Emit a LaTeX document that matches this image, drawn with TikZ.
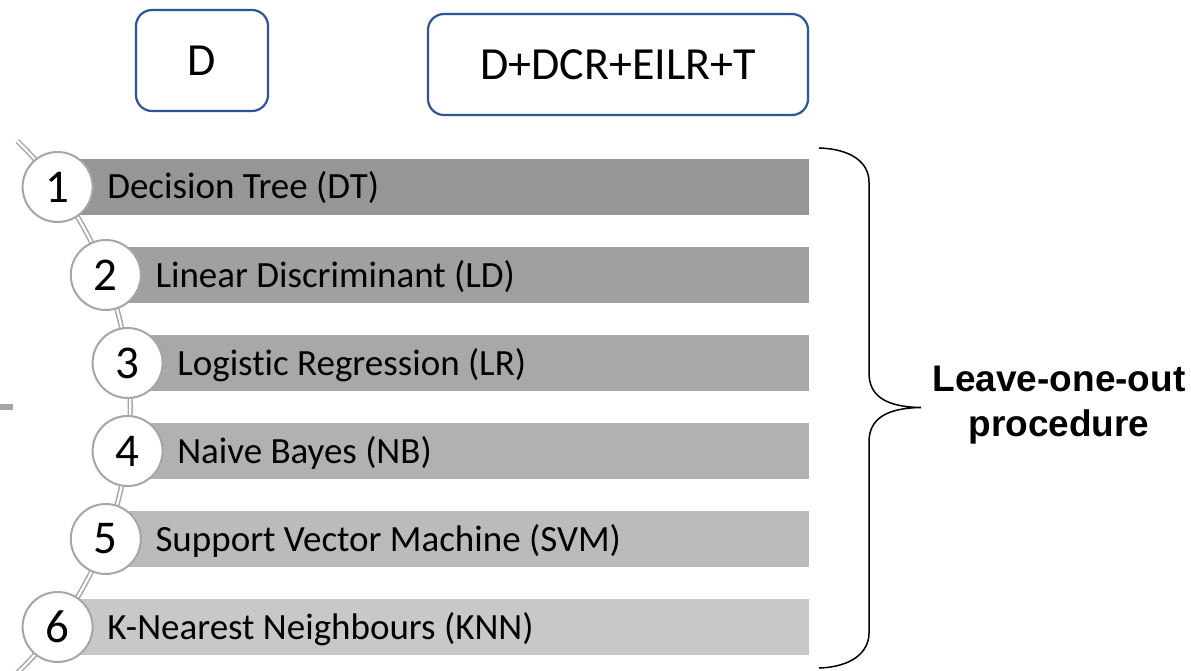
\documentclass[tikz,border=0pt]{standalone}
\usepackage{fontspec}
\setmainfont{Carlito}[Ligatures={NoCommon}]
\newfontfamily\arialf{Liberation Sans}
\definecolor{boxblue}{RGB}{47,85,151}
\definecolor{cborder}{RGB}{166,166,166}
\definecolor{bar1}{RGB}{150,150,150}
\definecolor{bar2}{RGB}{160,160,160}
\definecolor{bar3}{RGB}{168,168,168}
\definecolor{bar4}{RGB}{177,177,177}
\definecolor{bar5}{RGB}{187,187,187}
\definecolor{bar6}{RGB}{200,200,200}
\tikzset{
  topbox/.style={draw=boxblue, line width=2.2pt, rounded corners=16pt, fill=white,
    minimum height=101pt, inner sep=0pt, font=\fontsize{46}{50}\selectfont},
  numcirc/.style={circle, draw=cborder, line width=2pt, fill=white, minimum size=70pt,
    inner sep=0pt, font=\fontsize{47}{50}\selectfont},
  lab/.style={inner sep=0pt, font=\fontsize{37}{40}\selectfont},
  spine/.style={draw=cborder, line width=1.5pt, double=white, double distance=2.2pt},
  bracepath/.style={draw=black, line width=1.5pt},
  loolabel/.style={align=center, inner sep=0pt, font=\arialf\bfseries\fontsize{37}{45}\selectfont}
}
\begin{document}
\begin{tikzpicture}[x=1pt,y=-1pt]
\useasboundingbox (0,0) rectangle (1191,671);
\clip (0,0) rectangle (1191,671);
\fill[white] (0,0) rectangle (1191,671);
% top boxes
\node[topbox, minimum width=132pt] (d) at (202,60.5) {D};
\node[topbox, minimum width=380pt] (dall) at (618,64.5) {D+DCR+EILR+T};
% small gray tick
\fill[cborder] (0,404) rectangle (13,410);
% bars
\foreach \yc/\cx/\col in {187/57.6/bar1,275/105.8/bar2,363/127.6/bar3,451/127.6/bar4,539/105.8/bar5,627/57.6/bar6}{
  \fill[\col] (\cx,\yc-28) rectangle (809,\yc+28);
}
% spine arc
\draw[spine] plot[domain=-46:47, samples=90] ({-239.4+369.6*cos(\x)},{407+369.6*sin(\x)});
% circles and labels
\foreach \yc/\cx/\n/\lab in {187/57.6/1/{Decision Tree (DT)},275/105.8/2/{Linear Discriminant (LD)},363/127.6/3/{Logistic Regression (LR)},451/127.6/4/{Naive Bayes (NB)},539/105.8/5/{Support Vector Machine (SVM)},627/57.6/6/{K-Nearest Neighbours (KNN)}}{
  \node[numcirc] (c\n) at (\cx,\yc) {\n};
  \node[lab, anchor=base west] (t\n) at (\cx+49.5,\yc+12) {\lab};
}
% brace
\draw[bracepath] (819,148) .. controls (852,149) and (869,163) .. (869,182)
  -- (869,373) .. controls (869,396) and (886,407) .. (921,407.5)
  .. controls (886,408) and (869,419) .. (869,442)
  -- (869,633) .. controls (869,652) and (852,667) .. (819,668);
\node[loolabel] (loo) at (1059,405) {Leave-one-out\\procedure};
\end{tikzpicture}
\end{document}
